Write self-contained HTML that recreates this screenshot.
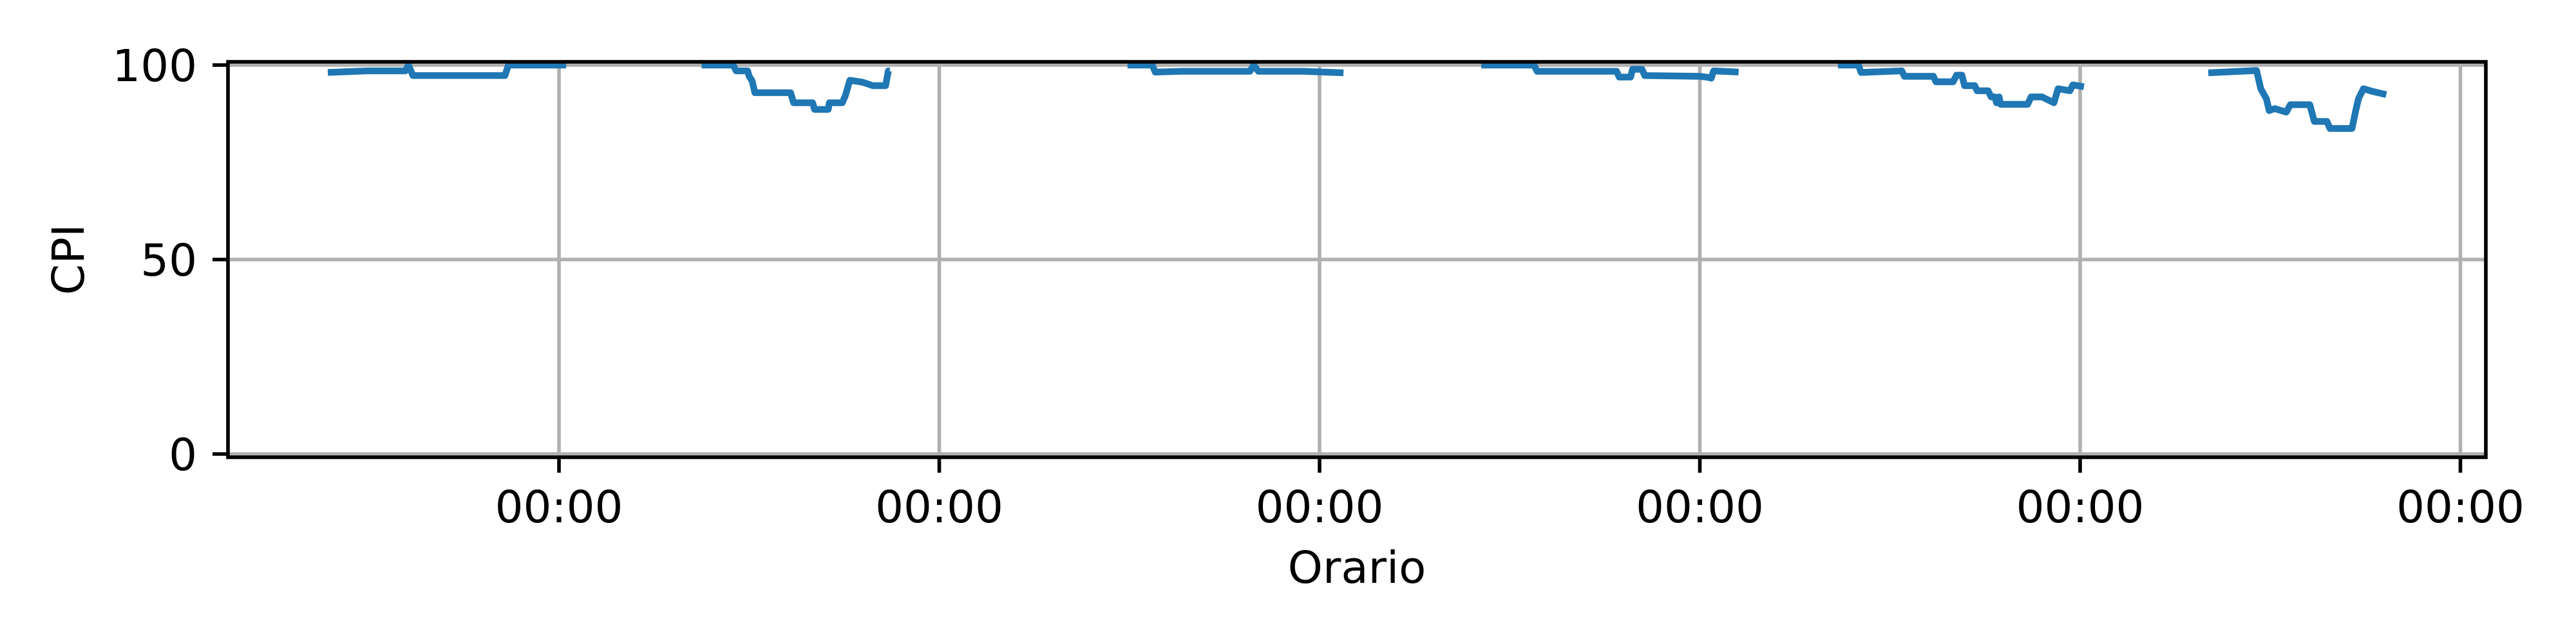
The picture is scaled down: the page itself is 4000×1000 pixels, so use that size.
<!DOCTYPE html>
<html><head><meta charset="utf-8"><style>
html,body{margin:0;padding:0;background:#fff;}
svg{display:block;}
text{font-family:"DejaVu Sans","Liberation Sans",sans-serif;fill:#000;}
</style></head><body>
<svg id="chart" width="4000" height="1000" viewBox="0 0 4000 1000" xmlns="http://www.w3.org/2000/svg">
<defs><clipPath id="plotclip"><rect x="354" y="96" width="3506" height="614"/></clipPath></defs>
<rect x="0" y="0" width="4000" height="1000" fill="#fff"/>
<g id="grid"></g>
<g id="series" clip-path="url(#plotclip)"></g>
<rect x="354" y="96" width="3506" height="614" fill="none" stroke="#000" stroke-width="5.6"/>
<g id="axes"></g>
<text x="2107" y="905" font-size="69" text-anchor="middle">Orario</text>
<text x="0" y="0" font-size="69" text-anchor="middle" transform="translate(130,403) rotate(-90)">CPI</text>
</svg>
<script>
// x in days relative to first labelled midnight
const xTickDays = [0, 1, 2, 3, 4, 5];
const xTickLabels = ["00:00", "00:00", "00:00", "00:00", "00:00", "00:00"];
const yTicks = [0, 50, 100];
const yTickLabels = ["0", "50", "100"];
const seg1Days = [-0.608, -0.503, -0.404, -0.396, -0.384, -0.142, -0.133, 0.019];
const seg1Vals = [98.1, 98.5, 98.5, 100, 97.3, 97.3, 100, 100];
const seg2Days = [0.375, 0.458, 0.466, 0.496, 0.500, 0.508, 0.515, 0.609, 0.617, 0.667, 0.672, 0.708, 0.711, 0.745, 0.753, 0.765, 0.798, 0.825, 0.859, 0.866, 0.870];
const seg2Vals = [100, 100, 98.5, 98.5, 97.1, 95.9, 92.9, 92.9, 90.3, 90.3, 88.6, 88.6, 90.3, 90.3, 92.1, 96.1, 95.6, 94.7, 94.7, 98.5, 98.5];
const seg3Days = [1.495, 1.560, 1.568, 1.639, 1.817, 1.827, 1.839, 1.956, 2.063];
const seg3Vals = [100, 100, 98.2, 98.4, 98.4, 100, 98.4, 98.4, 98.0];
const seg4Days = [2.425, 2.564, 2.572, 2.781, 2.788, 2.818, 2.823, 2.848, 2.855, 3.0, 3.024, 3.030, 3.036, 3.102];
const seg4Vals = [100, 100, 98.4, 98.4, 96.9, 96.9, 98.9, 98.9, 97.3, 97.1, 96.8, 96.6, 98.5, 98.2];
const seg5Days = [3.363, 3.417, 3.424, 3.531, 3.538, 3.614, 3.621, 3.666, 3.675, 3.689, 3.696, 3.723, 3.729, 3.758, 3.766, 3.776, 3.780, 3.787, 3.791, 3.862, 3.871, 3.900, 3.931, 3.942, 3.973, 3.981, 4.010];
const seg5Vals = [100, 100, 98.1, 98.5, 97.1, 97.1, 95.7, 95.7, 97.4, 97.4, 94.7, 94.7, 93.4, 93.4, 91.8, 91.8, 90.3, 91.8, 89.9, 89.9, 91.8, 91.8, 90.3, 93.9, 93.4, 94.9, 94.4];
const seg6Days = [4.337, 4.464, 4.475, 4.490, 4.497, 4.512, 4.542, 4.553, 4.604, 4.616, 4.649, 4.657, 4.715, 4.725, 4.732, 4.745, 4.770, 4.805];
const seg6Vals = [98.0, 98.6, 93.9, 91.3, 88.3, 88.8, 87.9, 89.8, 89.8, 85.5, 85.5, 83.7, 83.7, 88.4, 91.3, 93.9, 93.2, 92.4];

const NS = "http://www.w3.org/2000/svg";
const X0 = 868, DAYPX = 590.5;
function xScale(d){ return X0 + d * DAYPX; }
function yScale(v){ return 705 - v * 6.04; }
function mk(tag, attrs, parent){
  const el = document.createElementNS(NS, tag);
  for (const k in attrs) el.setAttribute(k, attrs[k]);
  parent.appendChild(el);
  return el;
}
const grid = document.getElementById('grid');
const axes = document.getElementById('axes');
const series = document.getElementById('series');

yTicks.forEach((v, i) => {
  const y = yScale(v);
  const gl = mk('line', {x1:354, x2:3860, y1:y, y2:y, stroke:'#b0b0b0', 'stroke-width':5.6}, grid);
  
  
  const tk = mk('line', {x1:330, x2:354, y1:y, y2:y, stroke:'#000', 'stroke-width':5.6}, axes);
  
  
  const t = mk('text', {x:306, y:y + 25, 'font-size':69, 'text-anchor':'end'}, axes);
  t.textContent = yTickLabels[i];
  
  
});
xTickDays.forEach((d, i) => {
  const x = xScale(d);
  const gl = mk('line', {x1:x, x2:x, y1:96, y2:710, stroke:'#b0b0b0', 'stroke-width':5.6}, grid);
  
  
  const tk = mk('line', {x1:x, x2:x, y1:710, y2:734, stroke:'#000', 'stroke-width':5.6}, axes);
  
  
  const t = mk('text', {x:x, y:811, 'font-size':69, 'text-anchor':'middle'}, axes);
  t.textContent = xTickLabels[i];
  
  
});
const segs = [[seg1Days, seg1Vals], [seg2Days, seg2Vals], [seg3Days, seg3Vals], [seg4Days, seg4Vals], [seg5Days, seg5Vals], [seg6Days, seg6Vals]];
segs.forEach((s, i) => {
  const pts = s[0].map((d, j) => xScale(d).toFixed(1) + ',' + yScale(s[1][j]).toFixed(1)).join(' ');
  const pl = mk('polyline', {points:pts, fill:'none', stroke:'#1f77b4', 'stroke-width':10.4, 'stroke-linejoin':'round', 'stroke-linecap':'butt'}, series);
  
  
});
</script>
</body></html>
